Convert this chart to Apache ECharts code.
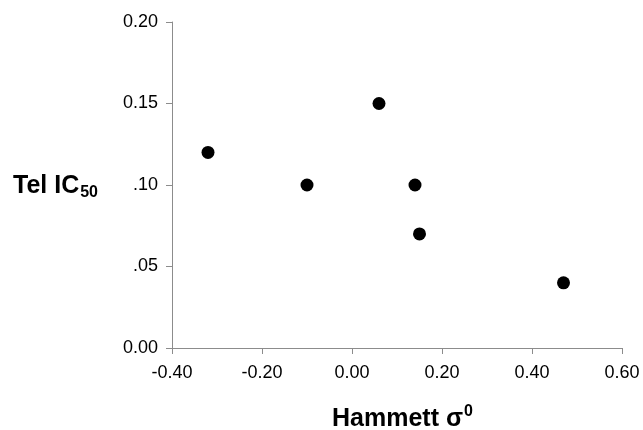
<!DOCTYPE html>
<html>
<head>
<meta charset="utf-8">
<script src="https://cdn.jsdelivr.net/npm/echarts@6/dist/echarts.min.js"></script>
<style>html,body{margin:0;padding:0;background:#fff}#c{width:643px;height:430px}</style>
</head>
<body>
<div id="c"></div>
<script>
const hammettSigma = [-0.32, -0.10, 0.06, 0.14, 0.15, 0.47];
const telIC50 = [0.12, 0.10, 0.15, 0.10, 0.07, 0.04];
const xTickLabels = ['-0.40', '-0.20', '0.00', '0.20', '0.40', '0.60'];
const yTickLabels = ['0.00', '.05', '.10', '0.15', '0.20'];

const chart = echarts.init(document.getElementById('c'));
const font = 'Liberation Sans, Arial, sans-serif';
chart.setOption({
  animation: false,
  backgroundColor: '#fff',
  grid: { left: 172, top: 22, right: 21, bottom: 82 },
  xAxis: {
    type: 'value', min: -0.4, max: 0.6, interval: 0.2,
    axisLine: { onZero: false, lineStyle: { color: '#8c8c8c', width: 1 } },
    axisTick: { show: true, length: 6, lineStyle: { color: '#8c8c8c' } },
    splitLine: { show: false },
    axisLabel: {
      margin: 16, fontSize: 18, color: '#000', fontFamily: font,
      formatter: (v) => xTickLabels[Math.round((v + 0.4) / 0.2)]
    }
  },
  yAxis: {
    type: 'value', min: 0, max: 0.2, interval: 0.05,
    axisLine: { show: true, onZero: false, lineStyle: { color: '#8c8c8c', width: 1 } },
    axisTick: { show: true, length: 6, lineStyle: { color: '#8c8c8c' } },
    splitLine: { show: false },
    axisLabel: {
      margin: 14, fontSize: 18, color: '#000', fontFamily: font,
      formatter: (v) => yTickLabels[Math.round(v / 0.05)]
    }
  },
  graphic: [
    {
      type: 'text', left: 13, top: 174,
      style: {
        text: '{a|Tel IC}{b|50}',
        rich: {
          a: { fontSize: 25, fontWeight: 'bold', fontFamily: font, fill: '#000', color: '#000' },
          b: { fontSize: 16, fontWeight: 'bold', fontFamily: font, fill: '#000', color: '#000', padding: [12, 0, 0, 1] }
        }
      }
    },
    {
      type: 'text', left: 332, top: 404,
      style: {
        text: '{a|Hammett σ}{b|0}',
        rich: {
          a: { fontSize: 25, fontWeight: 'bold', fontFamily: font, fill: '#000', color: '#000' },
          b: { fontSize: 16, fontWeight: 'bold', fontFamily: font, fill: '#000', color: '#000', padding: [0, 0, 14, 1] }
        }
      }
    }
  ],
  series: [{
    type: 'scatter',
    symbol: 'circle',
    symbolSize: 13,
    itemStyle: { color: '#000', opacity: 1 },
    data: hammettSigma.map((x, i) => [x, telIC50[i]])
  }]
});
</script>
</body>
</html>
